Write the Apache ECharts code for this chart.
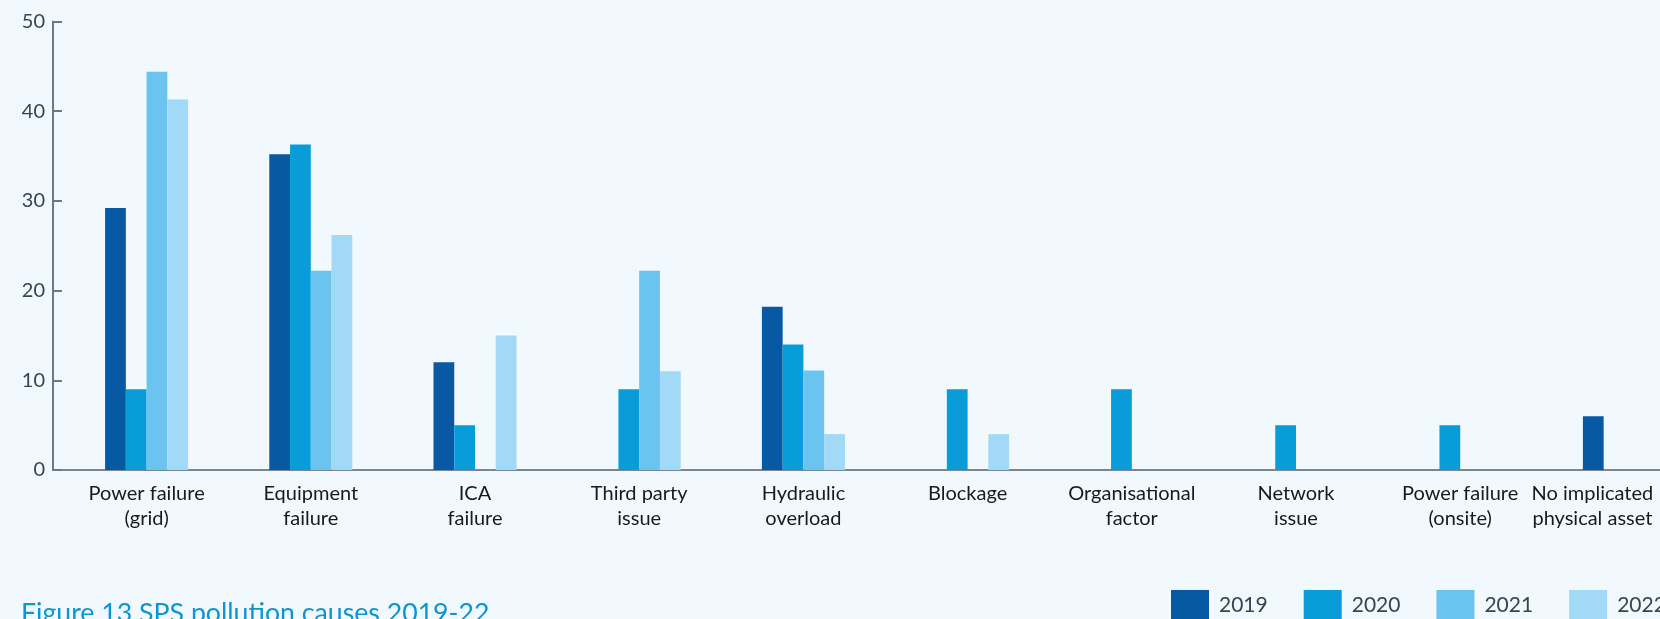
<!DOCTYPE html>
<html>
<head>
<meta charset="utf-8">
<script src="https://cdn.jsdelivr.net/npm/echarts@6/dist/echarts.min.js"></script>
<style>
  html, body { margin: 0; padding: 0; background: #f1f8fe; }
  #main { width: 1660px; height: 619px; }
</style>
</head>
<body>
<div id="main"></div>
<script>
// categories and yearly values
var categories = ['Power failure\n(grid)', 'Equipment\nfailure', 'ICA\nfailure', 'Third party\nissue',
  'Hydraulic\noverload', 'Blockage', 'Organisational\nfactor', 'Network\nissue',
  'Power failure\n(onsite)', 'No implicated\nphysical asset'];
var years = ['2019', '2020', '2021', '2022'];
var v2019 = [29.2, 35.2, 12, 0, 18.2, 0, 0, 0, 0, 6];
var v2020 = [9, 36.3, 5, 9, 14, 9, 9, 5, 5, 0];
var v2021 = [44.4, 22.2, 0, 22.2, 11.1, 0, 0, 0, 0, 0];
var v2022 = [41.3, 26.2, 15, 11, 4, 4, 0, 0, 0, 0];
var yTicks = [0, 10, 20, 30, 40, 50];

var colors = ['#0659a2', '#089dd9', '#6bc4ef', '#a2d9f6'];
var font = 'Lato, "Noto Sans", sans-serif';

var chart = echarts.init(document.getElementById('main'));

var series = [v2019, v2020, v2021, v2022].map(function (vals, i) {
  return {
    name: years[i],
    type: 'bar',
    xAxisIndex: 0,
    yAxisIndex: 0,
    barWidth: 20.75,
    barGap: '0%',
    itemStyle: { color: colors[i] },
    data: vals
  };
});

// the last label is pulled left so it stays inside the picture
var catData = categories.map(function (c, i) {
  if (i === categories.length - 1) {
    return { value: c, textStyle: { padding: [0, 64, 0, 0] } };
  }
  return c;
});

var option = {
  backgroundColor: '#f1f8fe',
  animation: false,
  color: colors,
  title: {
    text: 'Figure 13 SPS pollution causes 2019-22',
    left: 21,
    top: 597,
    padding: 0,
    textStyle: { color: '#0b95d3', fontFamily: font, fontWeight: 'normal', fontSize: 26.7, lineHeight: 32 }
  },
  legend: {
    data: years,
    left: 1171,
    top: 590,
    width: 700,
    padding: 0,
    icon: 'rect',
    itemWidth: 38,
    itemHeight: 30,
    itemGap: 36,
    textStyle: { color: '#3a4550', fontFamily: font, fontSize: 21, padding: [0, 0, 0, 5] }
  },
  grid: [
    // grid for the bars, runs past the right edge like the original
    { left: 64.5, top: 21.5, width: 1642, height: 448.5, outerBoundsMode: 'none' },
    // grid for the axis lines
    { left: 53, top: 21.5, right: 0, height: 448.5, outerBoundsMode: 'none' }
  ],
  xAxis: [
    {
      type: 'category',
      gridIndex: 0,
      data: catData,
      axisLine: { show: false },
      axisTick: { show: false },
      axisLabel: { color: '#1a1a1a', fontFamily: font, fontSize: 20, lineHeight: 25, margin: 11, interval: 0 }
    },
    {
      type: 'value',
      gridIndex: 1,
      min: 0,
      max: 1,
      axisLine: { show: true, lineStyle: { color: '#7c8691', width: 2 } },
      axisTick: { show: false },
      axisLabel: { show: false },
      splitLine: { show: false }
    }
  ],
  yAxis: [
    { type: 'value', gridIndex: 0, min: 0, max: 50, interval: 10, show: false },
    {
      type: 'value',
      gridIndex: 1,
      min: yTicks[0],
      max: yTicks[yTicks.length - 1],
      interval: 10,
      axisLine: { show: true, lineStyle: { color: '#6d7883', width: 2 } },
      axisTick: { show: true, inside: true, length: 9, lineStyle: { color: '#6d7883', width: 2 } },
      axisLabel: { color: '#3a4550', fontFamily: font, fontSize: 20, margin: 8 },
      splitLine: { show: false }
    }
  ],
  series: series
};

chart.setOption(option);
</script>
</body>
</html>
